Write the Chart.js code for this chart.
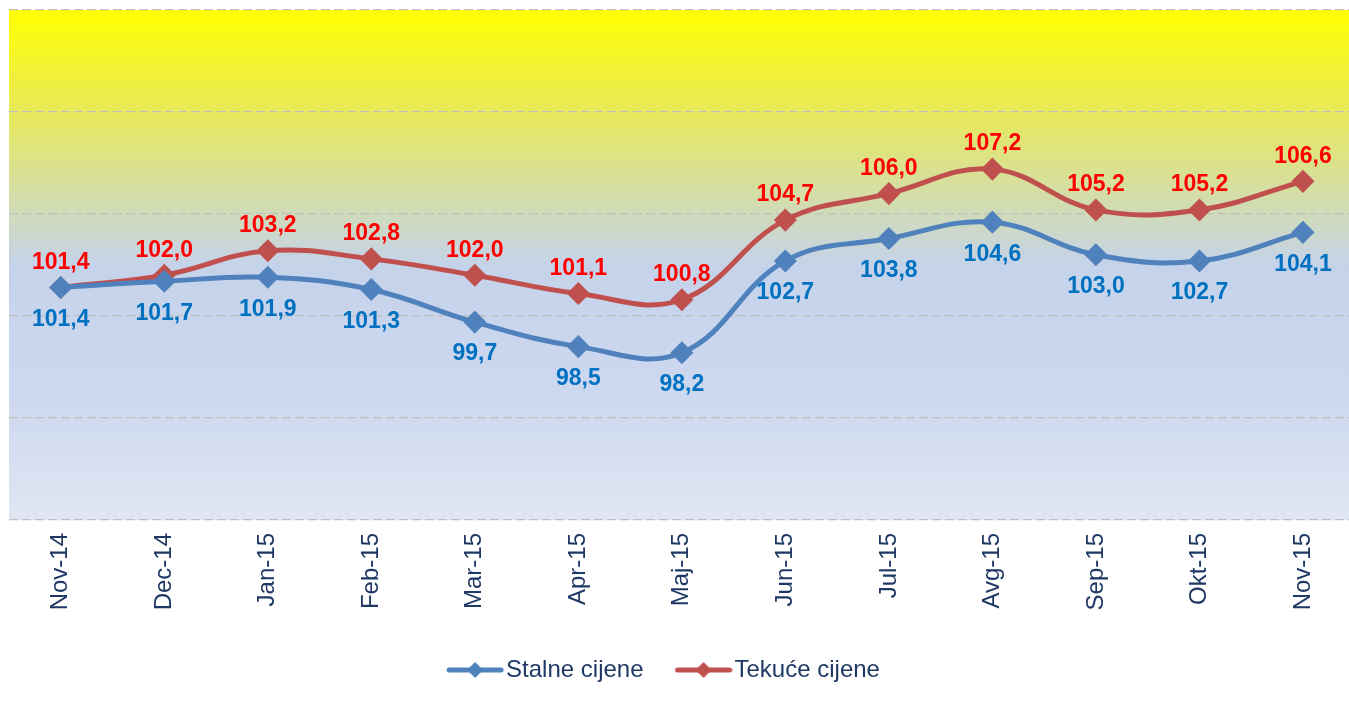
<!DOCTYPE html>
<html lang="hr">
  <head>
    <meta charset="UTF-8" />
    <title>Stalne i tekuće cijene</title>
    <script src="https://cdn.jsdelivr.net/npm/chart.js"></script>
    <style>
      html, body { margin: 0; padding: 0; background: #ffffff; overflow: hidden; }
      .grafico { position: relative; width: 1349px; height: 704px; }
    </style>
  </head>
  <body>
    <div class="grafico">
      <canvas id="myChart"></canvas>
    </div>

    <script>
      var meseci = ["Nov-14", "Dec-14", "Jan-15", "Feb-15", "Mar-15", "Apr-15", "Maj-15",
        "Jun-15", "Jul-15", "Avg-15", "Sep-15", "Okt-15", "Nov-15"];
      var stalneCijene = [101.4, 101.7, 101.9, 101.3, 99.7, 98.5, 98.2, 102.7, 103.8, 104.6, 103.0, 102.7, 104.1];
      var tekuceCijene = [101.4, 102.0, 103.2, 102.8, 102.0, 101.1, 100.8, 104.7, 106.0, 107.2, 105.2, 105.2, 106.6];
      var nazivSerija = ["Stalne cijene", "Tekuće cijene"];

      var plava = "#4f81bd";
      var crvena = "#c0504d";
      var donjiRubGrafa = 520; // where the plot area should end
      var pomakLegende = -20; // legend sits a bit left of centre

      function tocke(vrijednosti) {
        return vrijednosti.map(function (v, i) { return { x: i, y: v }; });
      }

      // small picture for the legend: line with a diamond, flush right
      function legendaZnak(boja) {
        var c = document.createElement("canvas");
        c.width = 76;
        c.height = 20;
        var g = c.getContext("2d");
        g.strokeStyle = boja;
        g.lineWidth = 5;
        g.lineCap = "round";
        g.beginPath();
        g.moveTo(21, 10);
        g.lineTo(73, 10);
        g.stroke();
        g.fillStyle = boja;
        g.beginPath();
        g.moveTo(47, 2);
        g.lineTo(55, 10);
        g.lineTo(47, 18);
        g.lineTo(39, 10);
        g.closePath();
        g.fill();
        return c;
      }

      // background gradient inside the plot area
      var pozadina = {
        id: "pozadina",
        afterLayout: function (chart) {
          if (chart.legend) {
            chart.legend.left += pomakLegende;
            chart.legend.right += pomakLegende;
          }
        },
        beforeDraw: function (chart) {
          var a = chart.chartArea;
          var ctx = chart.ctx;
          var grad = ctx.createLinearGradient(0, a.top, 0, a.bottom);
          grad.addColorStop(0, "#ffff00");
          grad.addColorStop(0.2, "#e8e95a");
          grad.addColorStop(0.38, "#d2dcb0");
          grad.addColorStop(0.5, "#c5d3ea");
          grad.addColorStop(0.75, "#ccd8ef");
          grad.addColorStop(1, "#e0e6f3");
          ctx.save();
          ctx.fillStyle = grad;
          ctx.fillRect(a.left, a.top, a.right - a.left, a.bottom - a.top);
          ctx.restore();
        },
      };

      // value labels: red above, blue below
      var oznake = {
        id: "oznake",
        afterDatasetsDraw: function (chart) {
          var ctx = chart.ctx;
          ctx.save();
          ctx.font = "bold 23px 'Liberation Sans', Arial, sans-serif";
          ctx.textAlign = "center";
          ctx.textBaseline = "middle";
          chart.data.datasets.forEach(function (ds, d) {
            var meta = chart.getDatasetMeta(d);
            meta.data.forEach(function (pt, i) {
              var txt = ds.data[i].y.toFixed(1).replace(".", ",");
              var w = ctx.measureText(txt).width;
              var x = Math.min(pt.x, chart.width - 3 - w / 2);
              var y = d === 0 ? pt.y + 32 : pt.y - 25;
              ctx.fillStyle = d === 0 ? "#0070c0" : "#ff0000";
              ctx.fillText(txt, x, y);
            });
          });
          ctx.restore();
        },
      };

      const ctx = document.getElementById("myChart");
      new Chart(ctx, {
        type: "line",
        data: {
          datasets: [
            {
              label: nazivSerija[0],
              data: tocke(stalneCijene),
              borderColor: plava,
              backgroundColor: plava,
              borderWidth: 5,
              pointStyle: "rectRot",
              pointRadius: 8,
              pointHoverRadius: 8,
              tension: 0.4,
            },
            {
              label: nazivSerija[1],
              data: tocke(tekuceCijene),
              borderColor: crvena,
              backgroundColor: crvena,
              borderWidth: 5,
              pointStyle: "rectRot",
              pointRadius: 8,
              pointHoverRadius: 8,
              tension: 0.4,
            },
          ],
        },
        options: {
          responsive: true,
          maintainAspectRatio: false,
          animation: false,
          layout: { autoPadding: false, padding: { top: 10, left: 9, right: 0, bottom: 12 } },
          plugins: {
            tooltip: { enabled: false },
            legend: {
              position: "bottom",
              labels: {
                usePointStyle: true,
                pointStyleWidth: 56,
                padding: 23,
                color: "#1f3864",
                font: { family: "'Liberation Sans', Arial, sans-serif", size: 24 },
                generateLabels: function (chart) {
                  return chart.data.datasets.map(function (ds, i) {
                    return {
                      text: ds.label,
                      pointStyle: legendaZnak(ds.borderColor),
                      fillStyle: ds.borderColor,
                      strokeStyle: ds.borderColor,
                      lineWidth: 0,
                      fontColor: "#1f3864",
                      datasetIndex: i,
                    };
                  });
                },
              },
            },
          },
          scales: {
            x: {
              type: "linear",
              min: -0.5,
              max: 12.445,
              afterBuildTicks: function (axis) {
                axis.ticks = meseci.map(function (m, i) { return { value: i }; });
              },
              afterFit: function (axis) {
                // rotated labels should not push the plot area inwards
                axis.paddingLeft = 0;
                axis.paddingRight = 0;
                var leg = axis.chart.legend ? axis.chart.legend.height : 0;
                axis.height = axis.chart.height - donjiRubGrafa - leg - 12;
              },
              grid: { display: false, drawTicks: false },
              border: { display: false },
              ticks: {
                autoSkip: false,
                maxRotation: 90,
                minRotation: 90,
                padding: 13,
                color: "#1f3864",
                font: { family: "'Liberation Sans', Arial, sans-serif", size: 24 },
                callback: function (v) { return meseci[v]; },
              },
            },
            y: {
              min: 90,
              max: 115,
              ticks: { display: false, stepSize: 5 },
              grid: { color: "#bfbfbf", lineWidth: 1.2, drawTicks: false },
              border: { display: false, dash: [9, 4] },
            },
          },
        },
        plugins: [pozadina, oznake],
      });
    </script>
  </body>
</html>
